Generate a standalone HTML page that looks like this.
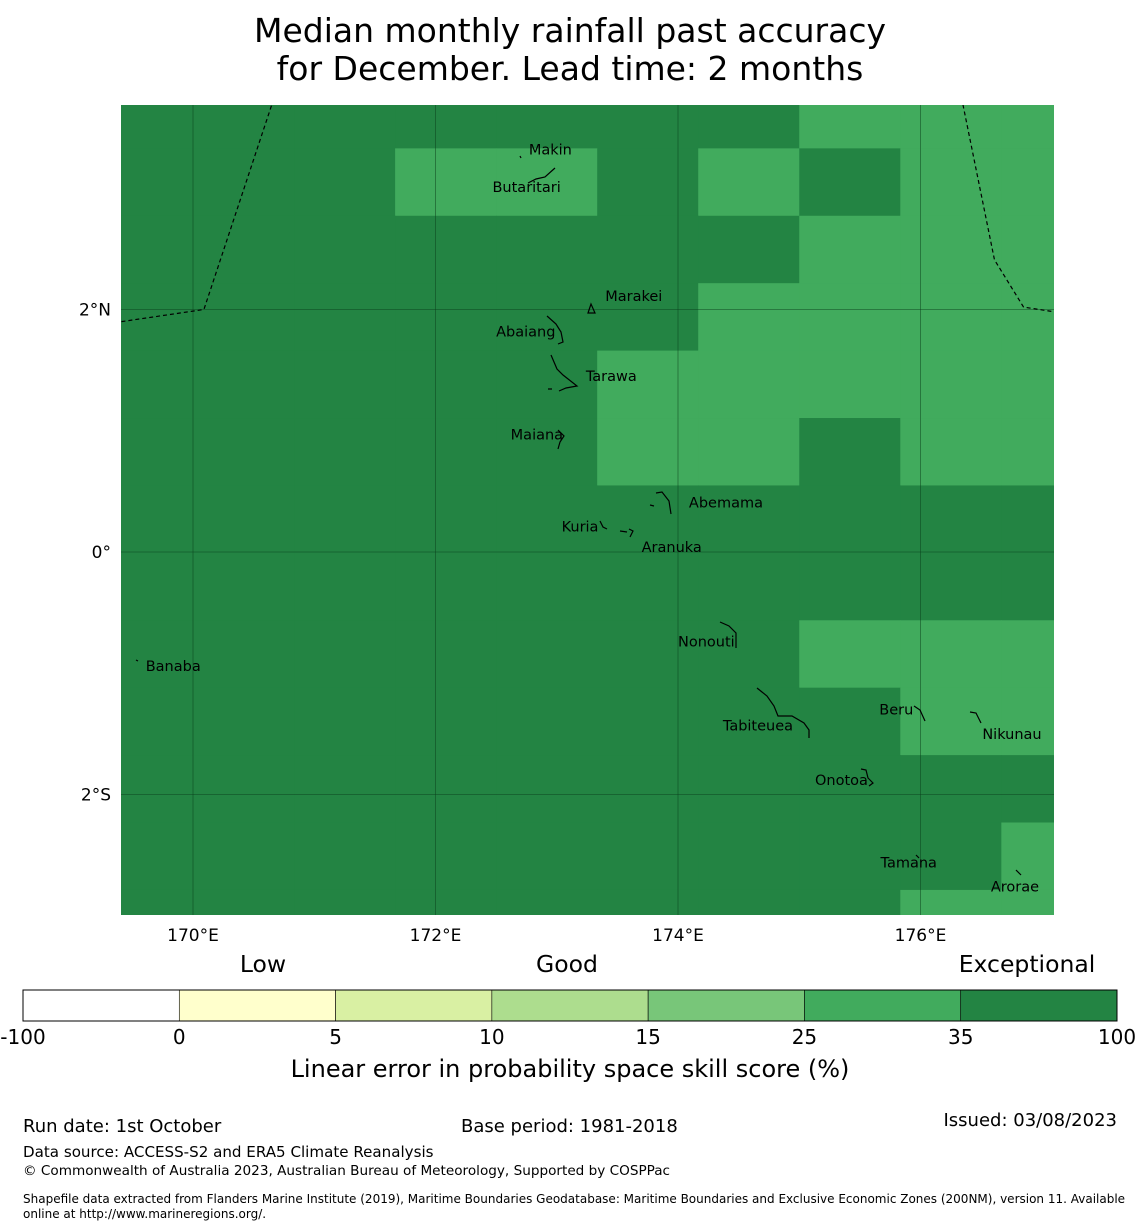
<!DOCTYPE html>
<html><head><meta charset="utf-8">
<style>
html,body{margin:0;padding:0;background:#fff}
svg{display:block;font-family:"DejaVu Sans","Liberation Sans",sans-serif}
</style></head>
<body>
<svg id="chart" width="1140" height="1230" viewBox="0 0 1140 1230" xmlns="http://www.w3.org/2000/svg">
<text x="570" y="42" font-size="33" text-anchor="middle">Median monthly rainfall past accuracy</text>
<text x="570" y="80" font-size="33" text-anchor="middle">for December. Lead time: 2 months</text>
<defs><clipPath id="mapclip"><rect x="121" y="105" width="933" height="810"/></clipPath></defs>
<g id="map" clip-path="url(#mapclip)"></g>
<g id="axes"></g>
<g id="cbar"></g>
<text x="263" y="972" font-size="23.5" text-anchor="middle">Low</text>
<text x="567" y="972" font-size="23.5" text-anchor="middle">Good</text>
<text x="1027" y="972" font-size="23.5" text-anchor="middle">Exceptional</text>
<text x="570" y="1077" font-size="24" text-anchor="middle">Linear error in probability space skill score (%)</text>
<text x="23" y="1132" font-size="18">Run date: 1st October</text>
<text x="461" y="1132" font-size="18">Base period: 1981-2018</text>
<text x="1117" y="1126" font-size="18" text-anchor="end">Issued: 03/08/2023</text>
<text x="23" y="1157" font-size="15.1">Data source: ACCESS-S2 and ERA5 Climate Reanalysis</text>
<text x="23" y="1175" font-size="13.6">© Commonwealth of Australia 2023, Australian Bureau of Meteorology, Supported by COSPPac</text>
<text x="23" y="1203" font-size="12">Shapefile data extracted from Flanders Marine Institute (2019), Maritime Boundaries Geodatabase: Maritime Boundaries and Exclusive Economic Zones (200NM), version 11. Available</text>
<text x="23" y="1218" font-size="12">online at http://www.marineregions.org/.</text>
</svg>
<script>
// ---- data ----
const lonTicks = [170, 172, 174, 176];
const lonTickLabels = ["170°E", "172°E", "174°E", "176°E"];
const latTicks = [2, 0, -2];
const latTickLabels = ["2°N", "0°", "2°S"];
const gridLon0 = 169.167, gridLat0 = 3.885, cellW = 0.8333, cellH = 0.556;
const skillGrid = [
 [40,40,40,40,40,40,40,30,30,30],
 [40,40,40,30,30,40,30,40,30,30],
 [40,40,40,40,40,40,40,30,30,30],
 [40,40,40,40,40,40,30,30,30,30],
 [40,40,40,40,40,30,30,30,30,30],
 [40,40,40,40,40,30,30,40,30,30],
 [40,40,40,40,40,40,40,40,40,40],
 [40,40,40,40,40,40,40,40,40,40],
 [40,40,40,40,40,40,40,30,30,30],
 [40,40,40,40,40,40,40,40,30,30],
 [40,40,40,40,40,40,40,40,40,40],
 [40,40,40,40,40,40,40,40,40,30],
 [40,40,40,40,40,40,40,40,30,30]
];
const cbBounds = [-100, 0, 5, 10, 15, 25, 35, 100];
const cbColors = ["#ffffff","#ffffcc","#d9f0a3","#addd8e","#78c679","#41ab5d","#238443"];
const islandNames = ["Makin","Butaritari","Marakei","Abaiang","Tarawa","Maiana","Abemama","Kuria","Aranuka","Nonouti","Banaba","Tabiteuea","Beru","Nikunau","Onotoa","Tamana","Arorae"];
const islandLabelLon = [172.77,172.47,173.40,172.50,173.24,172.62,174.09,173.04,173.70,174.00,169.61,174.37,175.66,176.51,175.13,175.67,176.58];
const islandLabelLat = [3.32,3.01,2.11,1.82,1.45,0.97,0.41,0.21,0.04,-0.74,-0.94,-1.43,-1.30,-1.50,-1.88,-2.56,-2.76];
const eezLeftLon = [169.41, 170.09, 170.65, 170.65];
const eezLeftLat = [1.90, 2.0, 3.69, 3.69];
const eezRightLon = [176.35, 176.61, 176.85, 177.11];
const eezRightLat = [3.69, 2.41, 2.02, 1.98];

// ---- axis functions ----
const X = lon => 193 + (lon - 170) * 121.25;
const Y = lat => 552 - lat * 121.25;
const NS = "http://www.w3.org/2000/svg";
function mk(tag, attrs, parent){const e=document.createElementNS(NS,tag);for(const k in attrs)e.setAttribute(k,attrs[k]);parent.appendChild(e);return e;}
function colorFor(v){for(let i=0;i<cbColors.length;i++){if(v>=cbBounds[i]&&v<cbBounds[i+1])return cbColors[i];}return cbColors[cbColors.length-1];}

const map = document.getElementById('map');
skillGrid.forEach((row, r) => row.forEach((v, c) => {
  const x0 = X(gridLon0 + c*cellW), x1 = X(gridLon0 + (c+1)*cellW);
  const y0 = Y(gridLat0 - r*cellH), y1 = Y(gridLat0 - (r+1)*cellH);
  const cell = mk('rect',{x:x0,y:y0,width:x1-x0+0.5,height:y1-y0+0.5,fill:colorFor(v)},map);
  
  
}));
lonTicks.forEach(l => {
  const g = mk('line',{x1:X(l),x2:X(l),y1:105,y2:915,stroke:"#0a3d1a","stroke-width":0.8,"stroke-opacity":0.6},map);
  
  
});
latTicks.forEach(l => {
  const g = mk('line',{x1:121,x2:1054,y1:Y(l),y2:Y(l),stroke:"#0a3d1a","stroke-width":0.8,"stroke-opacity":0.6},map);
  
  
});
[[eezLeftLon,eezLeftLat],[eezRightLon,eezRightLat]].forEach(([lo,la]) => {
  const pts = lo.map((v,i)=>X(v)+','+Y(la[i])).join(' ');
  const p = mk('polyline',{points:pts,fill:"none",stroke:"#000","stroke-width":1.2,"stroke-dasharray":"4,3"},map);
  
  
});
const shapes = {
 "Makin":"M520,156 l1,2","Butaritari":"M528,183 l8,-4 l9,-2 l10,-9",
 "Marakei":"M588,313 l3,-9 l4,9 z","Abaiang":"M547,316 l9,8 l5,8 l2,10 l-5,2",
 "Tarawa":"M551,355 l6,14 l6,6 l14,11 l-11,2 l-7,3 M548,389 l4,0",
 "Maiana":"M558,430 l6,6 l-4,6 l-2,7","Abemama":"M656,493 l6,-1 l7,9 l2,13 M650,505 l4,1",
 "Kuria":"M600,521 l3,6 l4,2","Aranuka":"M620,531 l7,1 M629,529 l4,2 l-3,6",
 "Nonouti":"M720,622 l9,4 l7,7 l0,15","Banaba":"M136,660 l2,1",
 "Tabiteuea":"M757,688 l10,8 l7,10 l4,10 l14,0 l12,7 l5,7 l0,8",
 "Beru":"M914,706 l6,4 l5,11","Nikunau":"M970,712 l6,1 l5,10",
 "Onotoa":"M861,769 l5,1 l2,8 l5,5 l-4,3","Tamana":"M916,855 l3,3","Arorae":"M1016,870 l5,5"
};
islandNames.forEach((n,i) => {
  if (shapes[n]) {
    const p = mk('path',{d:shapes[n],fill:"none",stroke:"#000","stroke-width":1.2},map);
    
    
  }
  const t = mk('text',{x:X(islandLabelLon[i]),y:Y(islandLabelLat[i])+5,"font-size":14.5,fill:"#000"},map);
  t.textContent = n;
  
  
});
const axes = document.getElementById('axes');
lonTicks.forEach((l,i) => {
  const t = mk('text',{x:X(l),y:941,"font-size":17,"text-anchor":"middle"},axes);
  t.textContent = lonTickLabels[i];
  
  
});
latTicks.forEach((l,i) => {
  const t = mk('text',{x:111,y:Y(l)+6,"font-size":17,"text-anchor":"end"},axes);
  t.textContent = latTickLabels[i];
  
  
});
const cb = document.getElementById('cbar');
const cbX0 = 23, cbX1 = 1117, n = cbColors.length, seg = (cbX1-cbX0)/n;
cbColors.forEach((c,i) => {
  const r = mk('rect',{x:cbX0+i*seg,y:990,width:seg,height:31,fill:c,stroke:"#000","stroke-width":0.6},cb);
  
  
});
const frame = mk('rect',{x:cbX0,y:990,width:cbX1-cbX0,height:31,fill:"none",stroke:"#000","stroke-width":1},cb);


cbBounds.forEach((b,i) => {
  const t = mk('text',{x:cbX0+i*seg,y:1044,"font-size":20,"text-anchor":"middle"},cb);
  t.textContent = b;
  
  
});
</script>
</body></html>
